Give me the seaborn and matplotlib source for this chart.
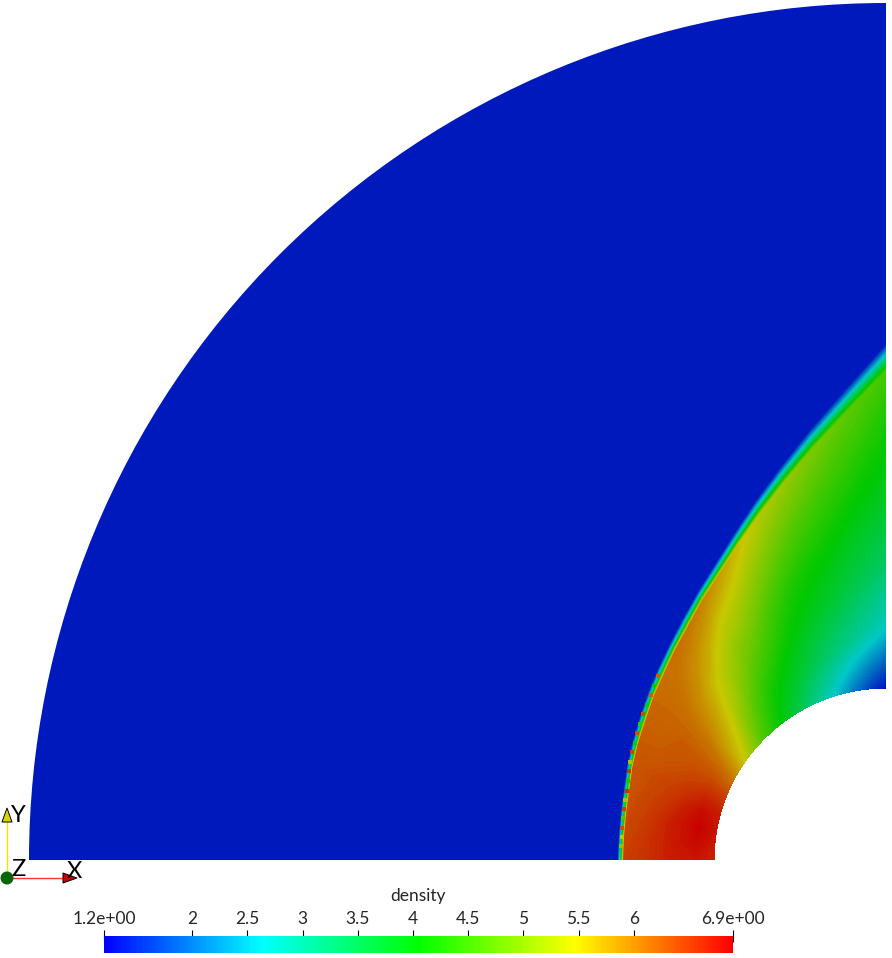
import numpy as np
import matplotlib
matplotlib.use('Agg')
import matplotlib.pyplot as plt
from matplotlib.patches import Wedge, Polygon, Circle
from matplotlib.cm import ScalarMappable
from matplotlib.colors import Normalize
import seaborn as sns

# Values. Radii are in pixels from the centre of the cylinder.
wall_radius = 172
outer_radius = 857
freestream_density = 1.4
density_min = 1.2
density_max = 6.9

angles_deg = [0, 5, 10, 15, 20, 25, 30, 35, 40, 45, 50, 55, 60, 65, 70, 75, 80, 85, 90]
shock_radius = [268, 268, 269, 271, 275, 279, 284, 290, 297, 305, 315, 327, 341, 359, 381, 406, 436, 471, 515]
shock_width = [6, 6, 6, 6, 6, 6, 7, 7, 8, 8, 9, 9, 10, 11, 13, 15, 18, 22, 26]

# layer fractions from the wall (0) to the inner edge of the shock (1)
layer_fracs = [0, 0.2, 0.4, 0.6, 0.8, 1]
density_rows = [
    [6.65, 6.75, 6.72, 6.62, 6.52, 6.45],
    [6.70, 6.82, 6.75, 6.62, 6.50, 6.40],
    [6.75, 6.88, 6.75, 6.60, 6.45, 6.35],
    [6.70, 6.80, 6.65, 6.50, 6.40, 6.30],
    [6.50, 6.60, 6.50, 6.40, 6.35, 6.30],
    [6.20, 6.35, 6.35, 6.30, 6.25, 6.25],
    [5.85, 6.10, 6.20, 6.25, 6.20, 6.20],
    [5.45, 5.75, 6.00, 6.10, 6.15, 6.15],
    [5.00, 5.45, 5.70, 5.90, 6.05, 6.10],
    [4.55, 4.95, 5.35, 5.60, 5.90, 6.10],
    [4.20, 4.55, 5.00, 5.30, 5.70, 6.05],
    [3.85, 4.20, 4.65, 5.05, 5.45, 5.95],
    [3.50, 3.95, 4.40, 4.85, 5.30, 5.75],
    [3.15, 3.75, 4.15, 4.55, 5.05, 5.55],
    [2.80, 3.50, 3.95, 4.30, 4.80, 5.30],
    [2.40, 3.30, 3.80, 4.15, 4.60, 5.10],
    [2.00, 3.10, 3.65, 4.05, 4.45, 4.90],
    [1.60, 2.90, 3.50, 3.90, 4.30, 4.70],
    [1.30, 2.70, 3.35, 3.80, 4.15, 4.50],
]
shock_mid_density = [3.2, 3.2, 3.2, 3.2, 3.1, 3.1, 3.1, 3.0, 3.0, 3.0, 3.0, 3.0, 2.9, 2.9, 2.9, 2.9, 2.8, 2.8, 2.8]

# oscillating cells just behind the shock front
bead_angles = [3, 5, 7, 9, 11, 13, 15, 17, 19, 21, 23, 25, 27, 29, 31, 33, 35, 37, 39]
bead_radius = [265, 265, 266, 266, 267, 268, 268, 270, 272, 274, 276, 277, 279, 281, 283, 285, 287, 290, 293]
bead_density = [5.0, 5.4, 6.3, 4.6, 6.4, 5.2, 6.5, 4.2, 6.5, 5.2, 6.4, 3.8, 6.3, 4.4, 6.3, 3.8, 6.2, 4.0, 6.2]

tick_values = [1.2, 2, 2.5, 3, 3.5, 4, 4.5, 5, 5.5, 6, 6.9]
tick_labels = ['1.2e+00', '2', '2.5', '3', '3.5', '4', '4.5', '5', '5.5', '6', '6.9e+00']

sns.set_theme(style='white')
plt.rcParams['font.family'] = ['Lato', 'DejaVu Sans']

# bright map for the bar, the lit surface comes out darker
bar_cmap = sns.blend_palette(['#0000ff', '#00ffff', '#00ff00', '#ffff00', '#ff0000'], as_cmap=True)
field_cmap = sns.blend_palette(['#0000ba', '#00c8c8', '#00c800', '#c8c800', '#c80000'], as_cmap=True)
norm = Normalize(density_min, density_max)

fig = plt.figure(figsize=(8.92, 9.58), dpi=100)
ax = fig.add_axes([0, 0, 1, 1])
ax.set_xlim(-886, 6)
ax.set_ylim(-98, 860)
ax.axis('off')


def px(x, y):
    # picture pixel to axes data
    return x - 886, 860 - y


# build the shock layer grid
theta = np.radians(angles_deg)
r_s = np.array(shock_radius, dtype=float)
w = np.array(shock_width, dtype=float)
r_in = r_s - w
columns = [wall_radius + f * (r_in - wall_radius) for f in layer_fracs]
columns += [r_s - 0.45 * w, r_s]
R = np.column_stack(columns)
X = -R * np.cos(theta)[:, None]
Y = R * np.sin(theta)[:, None]
C = np.column_stack([np.array(density_rows), shock_mid_density, [freestream_density] * len(angles_deg)])

ax.add_patch(Wedge((0, 0), outer_radius, 90, 180, width=outer_radius - wall_radius,
                   fc=field_cmap(norm(freestream_density)), ec='none', zorder=1))
levels = np.linspace(density_min, density_max, 200)
ax.contourf(X, Y, C, levels=levels, cmap=field_cmap, norm=norm, zorder=2)

bead_x = -np.array(bead_radius) * np.cos(np.radians(bead_angles))
bead_y = np.array(bead_radius) * np.sin(np.radians(bead_angles))
sns.scatterplot(x=bead_x, y=bead_y, hue=bead_density, palette=field_cmap, hue_norm=norm,
                marker='s', s=8, linewidth=0, legend=False, ax=ax, zorder=3)

# orientation axes in the corner
ax.plot(*zip(px(7, 873), px(7, 820)), color='#e8e800', lw=1, zorder=5)
ax.plot(*zip(px(13, 878), px(65, 878)), color='#ff3030', lw=1, zorder=5)
ax.add_patch(Polygon([px(7, 808), px(2, 822), px(12, 822)], fc='#d8d800', ec='black', lw=0.7, zorder=6))
ax.add_patch(Polygon([px(77, 878), px(63, 873), px(63, 883)], fc='#c80000', ec='black', lw=0.7, zorder=6))
ax.add_patch(Circle(px(7, 878), 6.5, fc='#0a640a', ec='none', zorder=6))
for label, x, y in [('Y', 18, 815), ('X', 74, 871), ('Z', 18, 870)]:
    ax.text(*px(x, y), label, fontsize=17, color='black', ha='center', va='center', zorder=7)

# colour bar along the bottom
cax = fig.add_axes([104 / 892, 1 - 953 / 958, (733 - 104) / 892, 17 / 958])
cb = fig.colorbar(ScalarMappable(norm=norm, cmap=bar_cmap), cax=cax, orientation='horizontal')
cb.outline.set_visible(False)
cb.set_ticks(tick_values, labels=tick_labels)
cax.xaxis.set_ticks_position('top')
cax.tick_params(axis='x', direction='inout', length=8.6, width=0.8, color='black',
                labelsize=12.5, labelcolor='#262626', pad=2.5, top=True, bottom=False)
ax.text(*px(418, 896), 'density', fontsize=12.5, color='#262626', ha='center', va='center')

fig.savefig('out.png', dpi=100)
